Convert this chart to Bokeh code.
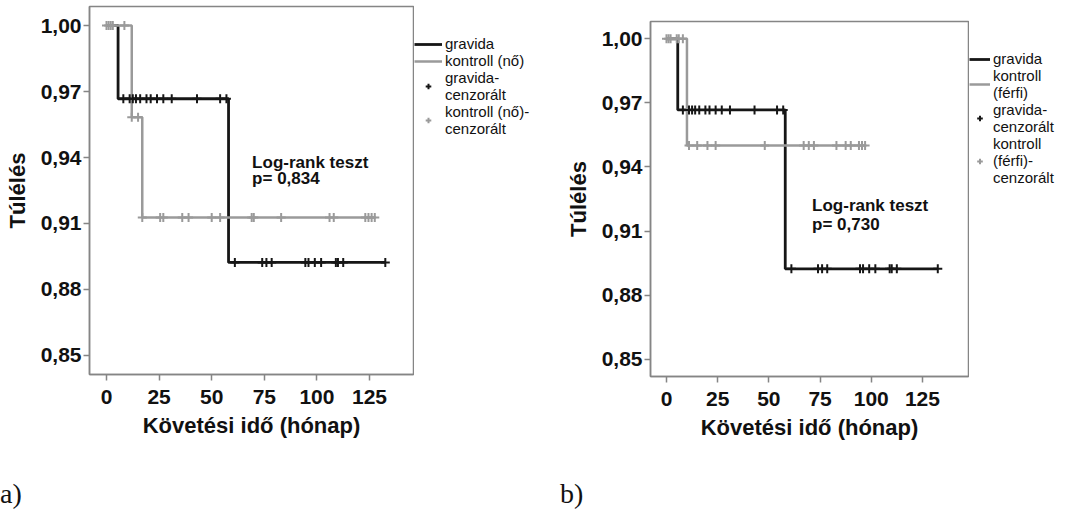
from bokeh.plotting import figure
from bokeh.models import Range1d, FixedTicker, Legend, LegendItem, Label, Div
from bokeh.layouts import row, column
from bokeh.embed import file_html
from bokeh.resources import INLINE

# ---------------- data ----------------
x_ticks = [0, 25, 50, 75, 100, 125]
y_ticks = [0.85, 0.88, 0.91, 0.94, 0.97, 1.00]
y_tick_labels = ["0,85", "0,88", "0,91", "0,94", "0,97", "1,00"]

# Kaplan-Meier step curves: event times and survival after each event
gravida_t = [0, 5.5, 58, 132.5]
gravida_s = [1.0, 0.9667, 0.8923, 0.8923]
gravida_cens = [8, 11, 12.5, 14, 16, 19, 21, 24, 27, 31, 43, 54, 57,
                61, 74, 76, 78.5, 94.5, 96, 99, 102, 109, 110, 112.5, 132.5]

kontroll_no_t = [0, 12, 17, 127.5]
kontroll_no_s = [1.0, 0.9583, 0.9127, 0.9127]
kontroll_no_cens = [0, 1, 2, 3, 8.5, 12, 15, 17, 25.5, 27, 36, 39, 50, 54,
                    69, 70, 83, 106, 108, 123, 124.5, 126, 127.5]

kontroll_ferfi_t = [0, 10, 97]
kontroll_ferfi_s = [1.0, 0.95, 0.95]
kontroll_ferfi_cens = [0, 1, 2, 5, 6, 8, 11, 15, 20, 24, 48, 67, 69.5, 72,
                       83, 87.5, 90, 94, 95.5, 97]

labels_a = ["gravida", "kontroll (nő)", "gravida-\ncenzorált", "kontroll (nő)-\ncenzorált"]
labels_b = ["gravida", "kontroll\n(férfi)", "gravida-\ncenzorált", "kontroll\n(férfi)-\ncenzorált"]

BLACK = "#161616"
GRAY = "#9a9a9a"
FRAME = "#858585"
FONT = "Liberation Sans"
FIG_H = 480


def level_at(times, surv, t):
    s = surv[0]
    for ti, si in zip(times, surv):
        if ti <= t:
            s = si
    return s


def draw_series(p, ctrl_t, ctrl_s, ctrl_cens):
    r_g = p.step(gravida_t, gravida_s, mode="after", line_color=BLACK, line_width=2.8)
    r_c = p.step(ctrl_t, ctrl_s, mode="after", line_color=GRAY, line_width=2.5)
    gy = [level_at(gravida_t, gravida_s, t) for t in gravida_cens]
    cy = [level_at(ctrl_t, ctrl_s, t) for t in ctrl_cens]
    r_cc = p.scatter(ctrl_cens, cy, marker="cross", size=9, line_color=GRAY, line_width=2)
    r_gc = p.scatter(gravida_cens, gy, marker="cross", size=9, line_color=BLACK, line_width=2)
    return r_g, r_c, r_gc, r_cc


def make_chart(ctrl_t, ctrl_s, ctrl_cens, ptxt, xr, yr, width, borders, txt_pos):
    bl, bt, br, bb = borders
    p = figure(output_backend="svg", toolbar_location=None, title=None,
               width=width, height=FIG_H,
               min_border_left=bl, min_border_top=bt,
               min_border_right=br, min_border_bottom=bb,
               x_range=Range1d(*xr), y_range=Range1d(*yr))
    p.background_fill_color = "white"
    p.border_fill_color = "white"
    p.outline_line_color = FRAME
    p.outline_line_width = 1.5
    p.xgrid.visible = False
    p.ygrid.visible = False

    draw_series(p, ctrl_t, ctrl_s, ctrl_cens)

    p.xaxis.ticker = FixedTicker(ticks=x_ticks)
    p.yaxis.ticker = FixedTicker(ticks=y_ticks)
    p.yaxis.major_label_overrides = {v: l for v, l in zip(y_ticks, y_tick_labels)}
    p.xaxis.axis_label = "Követési idő (hónap)"
    p.yaxis.axis_label = "Túlélés"
    for ax in (p.xaxis[0], p.yaxis[0]):
        ax.axis_line_color = FRAME
        ax.axis_line_width = 1.5
        ax.major_tick_line_color = FRAME
        ax.major_tick_line_width = 1.5
        ax.major_tick_in = 0
        ax.major_tick_out = 6
        ax.minor_tick_line_color = None
        ax.major_label_text_font = FONT
        ax.major_label_text_font_style = "bold"
        ax.major_label_text_font_size = "21px"
        ax.major_label_text_color = "#111111"
        ax.axis_label_text_font = FONT
        ax.axis_label_text_font_style = "bold"
        ax.axis_label_text_font_size = "22px"
        ax.axis_label_text_color = "#111111"
    p.xaxis.major_label_standoff = 9
    p.xaxis.axis_label_standoff = 6
    p.yaxis.major_label_standoff = 2
    p.yaxis.axis_label_standoff = 8

    tx, ty1, ty2 = txt_pos
    for txt, ty in ((ptxt[0], ty1), (ptxt[1], ty2)):
        p.add_layout(Label(x=tx, y=ty, text=txt, text_font=FONT, text_font_style="bold",
                           text_font_size="17px", text_baseline="alphabetic",
                           text_color="#111111"))
    return p


def make_legend(ctrl_t, ctrl_s, ctrl_cens, labels, width, top, bottom, loc, glyph_w):
    # a legend-only panel: the same series are drawn but kept out of view
    q = figure(output_backend="svg", toolbar_location=None, title=None,
               width=width, height=FIG_H, x_axis_type=None, y_axis_type=None,
               min_border_left=0, min_border_right=0,
               min_border_top=top, min_border_bottom=bottom,
               x_range=Range1d(1000, 1001), y_range=Range1d(1000, 1001))
    q.outline_line_color = None
    q.background_fill_color = "white"
    q.border_fill_color = "white"
    r_g, r_c, r_gc, r_cc = draw_series(q, ctrl_t, ctrl_s, ctrl_cens)
    legend = Legend(items=[
        LegendItem(label=labels[0], renderers=[r_g]),
        LegendItem(label=labels[1], renderers=[r_c]),
        LegendItem(label=labels[2], renderers=[r_gc]),
        LegendItem(label=labels[3], renderers=[r_cc]),
    ], location=loc, margin=0, padding=0, spacing=0,
        glyph_width=glyph_w, glyph_height=14, label_standoff=3, label_height=12,
        label_text_font=FONT, label_text_font_size="15px", label_text_line_height=0.6,
        label_text_color="#111111",
        border_line_color=None, background_fill_alpha=0)
    q.add_layout(legend)
    return q


pa = make_chart(kontroll_no_t, kontroll_no_s, kontroll_no_cens,
                ("Log-rank teszt", "p= 0,834"),
                xr=(-8.08, 145.9), yr=(0.84136, 1.00864),
                width=414, borders=(89, 6, 1, 106),
                txt_pos=(69.2, 0.9377, 0.9305))
la = make_legend(kontroll_no_t, kontroll_no_s, kontroll_no_cens, labels_a,
                 146, 6, 106, (0, 237), 28)
pb = make_chart(kontroll_ferfi_t, kontroll_ferfi_s, kontroll_ferfi_cens,
                ("Log-rank teszt", "p= 0,730"),
                xr=(-7.81, 147.5), yr=(0.8419, 1.0081),
                width=409, borders=(90, 21, 1, 104),
                txt_pos=(71.1, 0.9220, 0.9131))
lb = make_legend(kontroll_ferfi_t, kontroll_ferfi_s, kontroll_ferfi_cens, labels_b,
                 100, 21, 104, (0, 190), 21)

letter_style = {"font-family": "Liberation Serif", "font-size": "28px",
                "line-height": "1", "color": "#111111"}
da = Div(text="a)", width=560, height=28, margin=0, styles=letter_style)
db = Div(text="b)", width=509, height=28, margin=0, styles=letter_style)

layout = column(row(column(pa), column(la), column(pb), column(lb)), row(da, db))
open("out.html", "w").write(file_html(layout, INLINE))
